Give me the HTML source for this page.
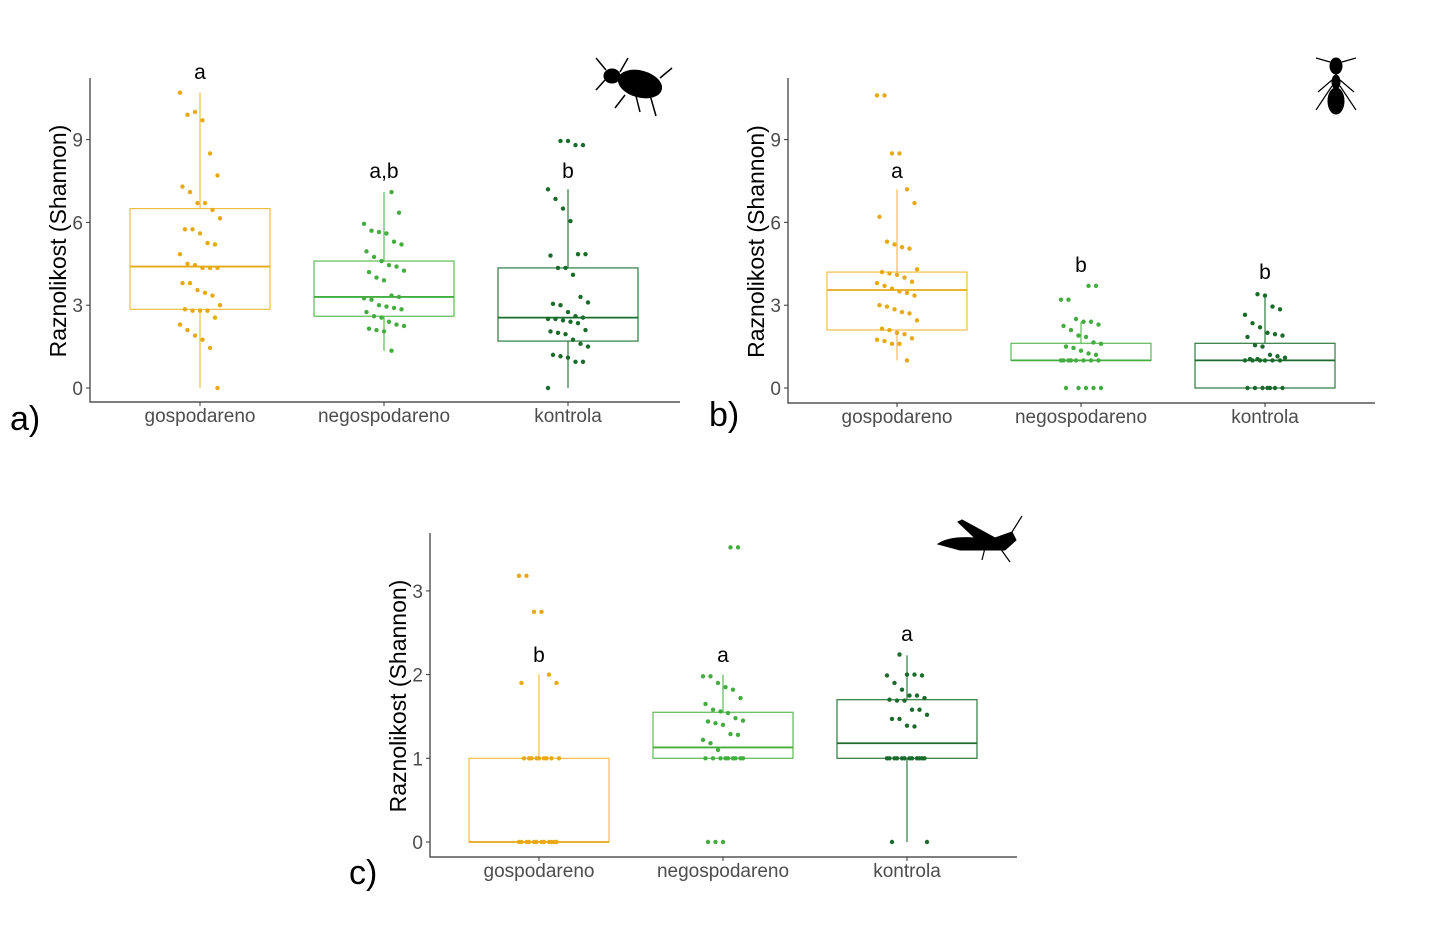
<!DOCTYPE html>
<html><head><meta charset="utf-8"><style>
body{margin:0;background:#fff;}
svg{display:block;font-family:"Liberation Sans",sans-serif;}
</style></head><body>
<svg id="chart" width="1432" height="926" viewBox="0 0 1432 926">
<g fill="#000" stroke="#000">
<ellipse cx="640" cy="84" rx="22" ry="13" transform="rotate(15 640 84)"/>
<ellipse cx="612" cy="76" rx="8" ry="7"/>
<path d="M606 70 L596 58 M620 72 L628 58 M650 95 L656 116 M636 96 L640 112 M660 78 L672 68 M625 95 L615 108 M605 80 L596 90" stroke-width="1.5" fill="none"/>
</g>
<g fill="#000" stroke="#000">
<ellipse cx="1336" cy="66" rx="6" ry="8"/>
<ellipse cx="1336" cy="82" rx="4" ry="7"/>
<ellipse cx="1336" cy="101" rx="8" ry="13"/>
<path d="M1330 62 L1316 58 M1342 62 L1356 58 M1332 80 L1318 92 M1340 80 L1354 92 M1332 86 L1316 110 M1340 86 L1356 110" stroke-width="1.2" fill="none"/>
</g>
<g fill="#000" stroke="#000">
<path d="M938 544 Q950 536 975 538 L958 522 L962 520 L995 538 L1012 532 L1016 540 L1005 550 L960 550 Z"/>
<path d="M1012 532 L1022 516 M985 548 L982 560 M1000 548 L1010 562" stroke-width="1.2" fill="none"/>
</g>
</svg>
<script>
// ===== Panel data =====
const categories = ["gospodareno", "negospodareno", "kontrola"];
// Panel a (beetles)
const aGospodareno = [10.7,9.9,10,9.7,8.5,7.7,7.3,7.1,6.7,6.7,6.45,6.15,5.75,5.75,5.6,5.25,5.2,4.85,4.5,4.45,4.35,4.35,4.35,3.8,3.8,3.55,3.45,3.35,3.0,2.85,2.8,2.8,2.8,2.55,2.3,2.1,1.9,1.75,1.45,0];
const aNegospodareno = [7.1,6.35,5.95,5.7,5.65,5.6,5.3,5.2,4.95,4.75,4.6,4.45,4.4,4.25,4.2,4.0,3.9,3.35,3.3,3.25,3.2,3.0,2.95,2.9,2.85,2.75,2.6,2.55,2.4,2.3,2.25,2.15,2.1,2.05,1.35];
const aKontrola = [8.95,8.95,8.8,8.8,7.2,6.85,6.5,6.05,4.85,4.85,4.8,4.35,4.35,4.1,3.3,3.1,3.05,3.0,2.75,2.6,2.55,2.5,2.5,2.45,2.4,2.35,2.1,2.05,2.0,1.95,1.75,1.6,1.5,1.2,1.15,1.1,0.95,0.95,0];
const aBoxes = [[0,2.85,4.4,6.5,10.7],[1.35,2.6,3.3,4.6,7.1],[0,1.7,2.55,4.35,7.2]];
const aLetters = ["a","a,b","b"];
const aLetterY = [11.2,7.6,7.6];
const aTicks = [0,3,6,9];
// Panel b (ants)
const bGospodareno = [10.6,10.6,8.5,8.5,7.2,6.7,6.2,5.3,5.2,5.1,5.05,4.3,4.2,4.15,4.1,4.0,3.85,3.8,3.7,3.6,3.5,3.45,3.35,3.0,2.95,2.85,2.75,2.7,2.45,2.15,2.1,2.0,1.95,1.8,1.75,1.7,1.6,1.6,1.0];
const bNegospodareno = [3.7,3.7,3.2,3.2,2.5,2.4,2.4,2.3,2.25,2.1,1.9,1.85,1.65,1.6,1.5,1.45,1.35,1.25,1.2,1,1,1,1,1,1,1,1,0,0,0,0,0];
const bKontrola = [3.4,3.35,2.95,2.85,2.65,2.35,2.2,2.0,1.95,1.9,1.85,1.55,1.5,1.2,1.15,1.1,1.05,1.05,1,1,1,1,1,1,0,0,0,0,0,0,0];
const bBoxes = [[1.0,2.1,3.55,4.2,7.2],[1.0,1.0,1.0,1.62,2.4],[0,0,1.0,1.62,3.4]];
const bLetters = ["a","b","b"];
const bLetterY = [7.6,4.2,3.95];
const bTicks = [0,3,6,9];
// Panel c (grasshoppers)
const cGospodareno = [3.18,3.18,2.75,2.75,2.0,1.9,1.9,1,1,1,1,1,1,1,1,1,0,0,0,0,0,0,0,0,0,0,0,0];
const cNegospodareno = [3.52,3.52,1.98,1.98,1.9,1.85,1.82,1.72,1.65,1.58,1.56,1.54,1.48,1.45,1.44,1.42,1.4,1.29,1.28,1.22,1.18,1.1,1,1,1,1,1,1,1,1,1,0,0,0];
const cKontrola = [2.24,2.0,2.0,1.99,1.99,1.9,1.82,1.75,1.75,1.72,1.7,1.69,1.69,1.58,1.58,1.52,1.47,1.47,1.39,1.38,1,1,1,1,1,1,1,1,1,1,1,1,0,0];
const cBoxes = [[0,0,0,1,2.0],[1,1,1.13,1.55,2.0],[0,1,1.18,1.7,2.23]];
const cLetters = ["b","a","a"];
const cLetterY = [2.15,2.15,2.4];
const cTicks = [0,1,2,3];

const dotColors = ["#E8A917","#44AD3F","#1A6B2C"];
const boxColors = ["#F0BE45","#5DBA55","#2E7A3E"];
const NS = "http://www.w3.org/2000/svg";
const svg = document.getElementById('chart');
function mk(tag, attrs, parent){const e=document.createElementNS(NS,tag);for(const k in attrs)e.setAttribute(k,attrs[k]);(parent||svg).appendChild(e);return e;}

function panel(name, cfg, series, boxes, letters, letterY, ticks){
  const g = mk('g',{});
  
  
  const y = v => cfg.y0 - v*cfg.ppu;
  const x = i => cfg.left + cfg.catStart + i*cfg.catStep;
  const ax = mk('path',{d:`M${cfg.left} ${cfg.top} V${cfg.bottom} H${cfg.right}`,stroke:"#333",fill:"none","stroke-width":1.2},g);
  
  
  ticks.forEach(t=>{
    const tl = mk('line',{x1:cfg.left-4,x2:cfg.left,y1:y(t),y2:y(t),stroke:"#333"},g);
    
    
    const tx = mk('text',{x:cfg.left-7,y:y(t)+7,"text-anchor":"end","font-size":19,fill:"#4d4d4d"},g);
    tx.textContent = t;
    
    
  });
  const yt = mk('text',{x:0,y:0,transform:`translate(${cfg.left-24} ${(cfg.top+cfg.bottom)/2+1}) rotate(-90)`,"text-anchor":"middle","font-size":23,fill:"#000"},g);
  yt.textContent = "Raznolikost (Shannon)";
  
  
  categories.forEach((c,i)=>{
    const tl = mk('line',{x1:x(i),x2:x(i),y1:cfg.bottom,y2:cfg.bottom+4,stroke:"#333"},g);
    
    
    const tx = mk('text',{x:x(i),y:cfg.bottom+20,"text-anchor":"middle","font-size":19,fill:"#4d4d4d"},g);
    tx.textContent = c;
    
    
    const b = boxes[i];
    const wl = mk('line',{x1:x(i),x2:x(i),y1:y(b[0]),y2:y(b[4]),stroke:boxColors[i],"stroke-width":1.2},g);
    
    
    const r = mk('rect',{x:x(i)-70,y:y(b[3]),width:140,height:Math.max(0.5,y(b[1])-y(b[3])),fill:"#fff",stroke:boxColors[i],"stroke-width":1.2},g);
    
    
    const md = mk('line',{x1:x(i)-70,x2:x(i)+70,y1:y(b[2]),y2:y(b[2]),stroke:dotColors[i],"stroke-width":1.8},g);
    
    
    series[i].forEach((v,j)=>{
      const jit = (((j*37+i*11)%17)-8)/8*20;
      const p = mk('circle',{cx:x(i)+jit,cy:y(v),r:2.2,fill:dotColors[i]},g);
      
      
    });
    const lt = mk('text',{x:x(i),y:y(letterY[i]),"text-anchor":"middle","font-size":21,fill:"#000"},g);
    lt.textContent = letters[i];
    
    
  });
  const pl = mk('text',{x:cfg.labX,y:cfg.labY,"font-size":34,fill:"#000"},g);
  pl.textContent = cfg.lab;
  
  
}
panel('panel-a',{left:90,right:680,top:78,bottom:402,y0:388,ppu:27.6,catStart:110,catStep:184,lab:"a)",labX:10,labY:430},[aGospodareno,aNegospodareno,aKontrola],aBoxes,aLetters,aLetterY,aTicks);
panel('panel-b',{left:788,right:1375,top:78,bottom:403,y0:388,ppu:27.6,catStart:109,catStep:184,lab:"b)",labX:709,labY:426},[bGospodareno,bNegospodareno,bKontrola],bBoxes,bLetters,bLetterY,bTicks);
panel('panel-c',{left:430,right:1017,top:533,bottom:857,y0:842,ppu:83.7,catStart:109,catStep:184,lab:"c)",labX:349,labY:884},[cGospodareno,cNegospodareno,cKontrola],cBoxes,cLetters,cLetterY,cTicks);
</script>
</body></html>
